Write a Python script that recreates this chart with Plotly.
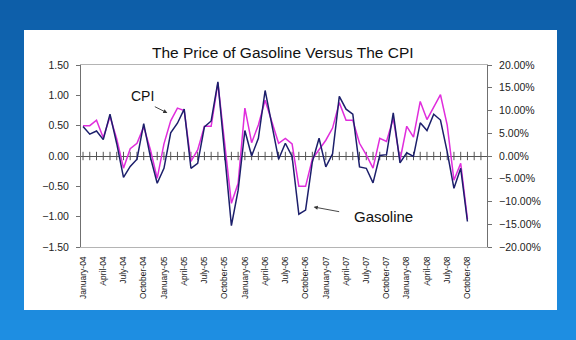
import plotly.graph_objects as go

# Monthly changes, January 2004 through October 2008
cpi = [0.50, 0.50, 0.59, 0.30, 0.65, 0.28, -0.20, 0.12, 0.21, 0.48, 0.10, -0.37,
       0.20, 0.58, 0.79, 0.75, -0.09, 0.10, 0.49, 0.49, 1.20, 0.20, -0.78, -0.45,
       0.79, 0.22, 0.51, 0.92, 0.55, 0.21, 0.29, 0.20, -0.50, -0.50, -0.05, 0.10,
       0.26, 0.46, 0.88, 0.59, 0.59, 0.21, 0.02, -0.20, 0.29, 0.24, 0.62, -0.07,
       0.49, 0.31, 0.90, 0.60, 0.81, 1.01, 0.51, -0.40, -0.12, -1.04]

gasoline_pct = [6.5, 4.8, 5.5, 3.6, 9.2, 2.7, -4.7, -2.3, -0.7, 7.1, -0.3, -6.0,
                -2.7, 5.1, 7.2, 10.3, -2.7, -1.6, 6.4, 7.7, 16.3, 0.8, -15.3, -7.5,
                5.6, 0.0, 3.9, 14.4, 7.2, -0.7, 2.8, -0.1, -12.8, -11.9, -1.3, 3.9,
                -2.4, 0.5, 13.1, 10.3, 9.2, -2.4, -2.7, -5.9, 0.1, 0.3, 9.5, -1.5,
                0.7, -0.1, 7.3, 5.6, 9.2, 7.9, 0.9, -7.1, -2.7, -14.4]

tick_labels = ["January-04", "April-04", "July-04", "October-04",
               "January-05", "April-05", "July-05", "October-05",
               "January-06", "April-06", "July-06", "October-06",
               "January-07", "April-07", "July-07", "October-07",
               "January-08", "April-08", "July-08", "October-08"]

axis_months = 60  # category slots on the horizontal axis

months = list(range(len(cpi)))
tick_vals = [3 * k for k in range(len(tick_labels))]

FONT = "Arial, Liberation Sans, sans-serif"
W, H = 576, 340
L, R, T, B = 81, 89, 65, 93
PW, PH = W - L - R, H - T - B


def px_x(p):
    return (p - L) / PW


def px_y(p):
    return (H - B - p) / PH


fig = go.Figure()

# zero-axis cross ticks
fig.add_trace(go.Scatter(
    x=list(range(axis_months)), y=[0] * axis_months, mode="markers",
    marker=dict(symbol="line-ns-open", size=6, color="#555555",
                line=dict(width=1, color="#555555")),
    hoverinfo="skip", showlegend=False))

fig.add_trace(go.Scatter(
    x=months, y=cpi, mode="lines", name="CPI",
    line=dict(color="#e02ddc", width=1.5), showlegend=False))

fig.add_trace(go.Scatter(
    x=months, y=gasoline_pct, mode="lines", name="Gasoline", yaxis="y2",
    line=dict(color="#1c1f6b", width=1.5), showlegend=False))

# slide background: vertical blue gradient
shapes = []
n_bands = 34
top_rgb = (13, 94, 168)
bot_rgb = (30, 142, 226)
for k in range(n_bands):
    f = k / (n_bands - 1)
    c = tuple(int(round(a + (b - a) * f)) for a, b in zip(top_rgb, bot_rgb))
    y0 = H * k / n_bands
    y1 = H * (k + 1) / n_bands + 1
    shapes.append(dict(type="rect", xref="paper", yref="paper",
                       x0=px_x(0), x1=px_x(W), y0=px_y(y1), y1=px_y(y0),
                       fillcolor="rgb(%d,%d,%d)" % c, line=dict(width=0),
                       layer="below"))
# white chart panel
shapes.append(dict(type="rect", xref="paper", yref="paper",
                   x0=px_x(24), x1=px_x(557), y0=px_y(310), y1=px_y(30),
                   fillcolor="white", line=dict(width=0), layer="below"))

annotations = [
    dict(text="The Price of Gasoline Versus The CPI", xref="paper", yref="paper",
         x=px_x(283), y=px_y(52), xanchor="center", yanchor="middle",
         showarrow=False, font=dict(family=FONT, size=15.5, color="#111111")),
    dict(text="CPI", x=8.75, y=0.99, xref="x", yref="y", showarrow=False,
         xanchor="center", yanchor="middle",
         font=dict(family=FONT, size=14, color="#111111")),
    dict(text="", x=12.5, y=0.71, xref="x", yref="y", ax=-14, ay=-7,
         showarrow=True, arrowhead=2, arrowsize=0.9, arrowwidth=0.9,
         arrowcolor="#333333"),
    dict(text="Gasoline", x=44.5, y=-0.99, xref="x", yref="y", showarrow=False,
         xanchor="center", yanchor="middle",
         font=dict(family=FONT, size=15, color="#111111")),
    dict(text="", x=34.2, y=-0.84, xref="x", yref="y", ax=27, ay=5,
         showarrow=True, arrowhead=2, arrowsize=0.9, arrowwidth=0.9,
         arrowcolor="#333333"),
]

fig.update_layout(
    width=W, height=H,
    margin=dict(l=L, r=R, t=T, b=B, pad=0),
    paper_bgcolor="#1676c6",
    plot_bgcolor="white",
    shapes=shapes,
    annotations=annotations,
    font=dict(family=FONT, color="#222222"),
    xaxis=dict(range=[-0.3, 59.9], tickvals=tick_vals, ticktext=tick_labels,
               tickangle=-90, tickfont=dict(size=8.5, color="#222222"),
               showline=True, linecolor="#b4b4b4", linewidth=1, mirror=True,
               showgrid=False, zeroline=False, ticks="", ticklabelstandoff=5),
    yaxis=dict(range=[-1.5, 1.5], dtick=0.5, tickformat=".2f",
               showgrid=False, zeroline=True, zerolinecolor="#555555",
               zerolinewidth=1, showline=True, linecolor="#707070",
               ticks="outside", ticklen=4, tickcolor="#707070",
               ticklabelstandoff=5,
               tickfont=dict(size=10.5, color="#222222")),
    yaxis2=dict(range=[-20, 20], dtick=5, tickformat=".2f", ticksuffix="%",
                overlaying="y", side="right", showgrid=False, zeroline=False,
                showline=True, linecolor="#707070", ticks="outside", ticklen=4,
                tickcolor="#707070", ticklabelstandoff=5,
                tickfont=dict(size=10.5, color="#222222")),
)

fig.write_html("out.html")
